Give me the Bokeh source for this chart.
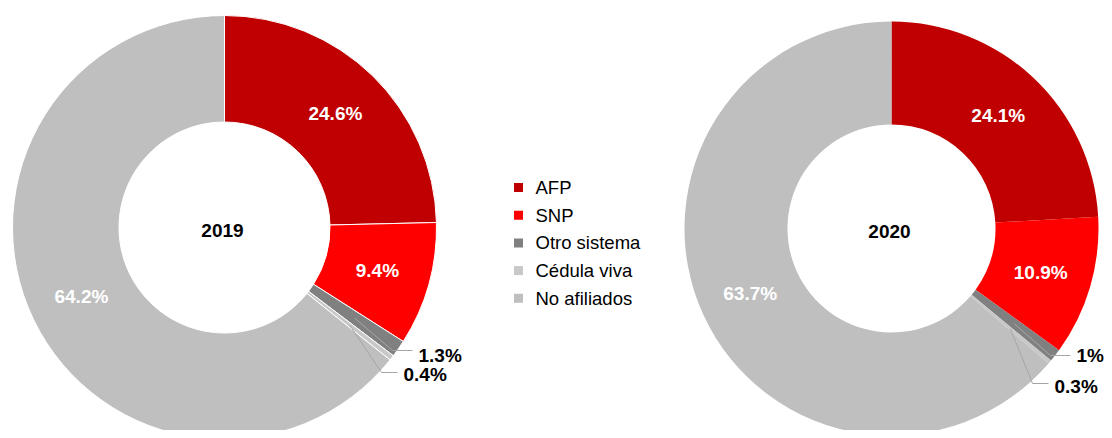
import math
from bokeh.plotting import figure
from bokeh.models import Range1d, ColumnDataSource
from bokeh.core.properties import value
from bokeh.embed import file_html
from bokeh.resources import INLINE

# ---- data ----
categories = ["AFP", "SNP", "Otro sistema", "Cédula viva", "No afiliados"]
years = ["2019", "2020"]
values_2019 = [24.6, 9.4, 1.3, 0.4, 64.2]
values_2020 = [24.1, 10.9, 1.0, 0.3, 63.7]
labels_2019 = ["24.6%", "9.4%", "1.3%", "0.4%", "64.2%"]
labels_2020 = ["24.1%", "10.9%", "1%", "0.3%", "63.7%"]
colors = ["#C00000", "#FF0000", "#808080", "#C8C8C8", "#BFBFBF"]

# ---- layout (screen pixels of the page) ----
W, H = 1104, 430
FONT = "Liberation Sans"
donuts = [
    dict(vals=values_2019, labs=labels_2019, year="2019", cx=224, cy=227, ro=212, ri=105.5,
         line="white",
         outside={2: (418, 355, 20, 5), 3: (403, 374, 16, 2)}),
    dict(vals=values_2020, labs=labels_2020, year="2020", cx=891, cy=228, ro=207, ri=104,
         line=None,
         outside={2: (1076, 355, 20, 0), 3: (1054, 386, 16, 3)}),
]

p = figure(width=W, height=H, output_backend="svg", toolbar_location=None,
           x_range=Range1d(0, W), y_range=Range1d(-H, 0),
           x_axis_location=None, y_axis_location=None, min_border=0,
           background_fill_color="white", border_fill_color="white")
p.outline_line_color = None
p.grid.visible = False

for d in donuts:
    tot = sum(d["vals"])
    starts, ends, mids = [], [], []
    cum = 0.0
    for v in d["vals"]:
        a0 = math.pi / 2 - 2 * math.pi * cum / tot
        cum += v
        a1 = math.pi / 2 - 2 * math.pi * cum / tot
        starts.append(a0)
        ends.append(a1)
        mids.append((a0 + a1) / 2)
    src = ColumnDataSource(dict(start=starts, end=ends, color=colors))
    kw = dict(line_color=d["line"], line_width=1) if d["line"] else dict(line_color=None)
    p.annular_wedge(x=d["cx"], y=-d["cy"], inner_radius=d["ri"], outer_radius=d["ro"],
                    start_angle="start", end_angle="end", direction="clock",
                    fill_color="color", source=src, **kw)
    rl = (d["ro"] + d["ri"]) / 2
    for i, lab in enumerate(d["labs"]):
        mx = d["cx"] + rl * math.cos(mids[i])
        my = -d["cy"] + rl * math.sin(mids[i])
        if i in d["outside"]:
            tx, ty, seg, rise = d["outside"][i]
            ex, ey = tx - 6, -(ty - rise)
            elx, ely = ex - seg, ey
            p.line([mx, elx, ex], [my, ely, ey], line_color="#A6A6A6", line_width=1)
            p.text(x=[tx], y=[-ty], text=[lab], text_color="black", text_font=value(FONT),
                   text_font_style="bold", text_font_size="19px",
                   text_align="left", text_baseline="middle")
        else:
            p.text(x=[mx], y=[my], text=[lab], text_color="white", text_font=value(FONT),
                   text_font_style="bold", text_font_size="19px",
                   text_align="center", text_baseline="middle")
    p.text(x=[d["cx"] - 2], y=[-(d["cy"] + 3)], text=[d["year"]], text_color="black",
           text_font=value(FONT), text_font_style="bold", text_font_size="19px",
           text_align="center", text_baseline="middle")

# ---- legend ----
leg_x, leg_y0, leg_dy = 518, 187, 27.7
leg_y = [-(leg_y0 + i * leg_dy) for i in range(len(categories))]
p.scatter(x=[leg_x] * len(categories), y=leg_y, marker="square", size=9,
          fill_color=colors, line_color=None)
p.text(x=[leg_x + 17] * len(categories), y=leg_y, text=categories, text_color="black",
       text_font=value(FONT), text_font_size="18.5px", text_align="left",
       text_baseline="middle")

open("out.html", "w").write(file_html(p, INLINE))
